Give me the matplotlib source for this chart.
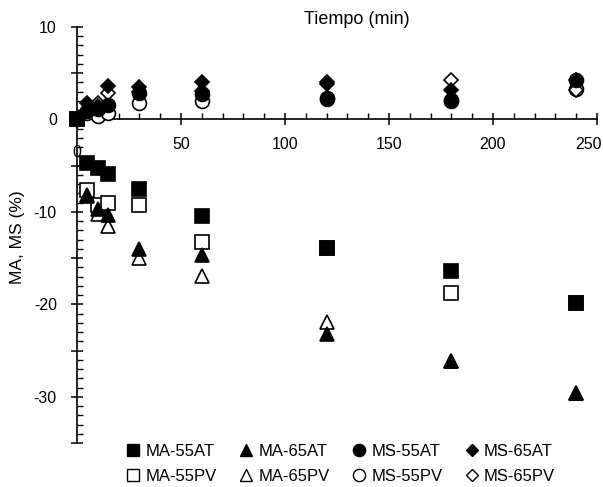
import matplotlib
matplotlib.use("Agg")
import matplotlib.pyplot as plt
import matplotlib.transforms as mtransforms
from matplotlib.lines import Line2D
from matplotlib.ticker import MultipleLocator

plt.rcParams['font.family'] = ['Liberation Sans', 'DejaVu Sans']

time = [0, 5, 10, 15, 30, 60, 120, 180, 240]

ma_55at = [0, -4.7, -5.2, -5.9, -7.5, -10.4, -13.9, -16.4, -19.9]
ma_55pv = [0, -7.6, -9.3, -9.0, -9.3, -13.3, -13.9, -18.8, -19.9]
ma_65at = [0, -8.3, -9.7, -10.3, -14.0, -14.7, -23.2, -26.1, -29.6]
ma_65pv = [0, -8.2, -10.2, -11.5, -15.0, -16.9, -21.9, -26.1, -29.6]
ms_55at = [0, 0.9, 1.1, 1.6, 2.9, 2.7, 2.2, 2.0, 4.3]
ms_55pv = [0, 0.7, 0.4, 0.75, 1.8, 2.0, 2.3, 2.1, 3.3]
ms_65at = [0, 1.8, 1.5, 3.6, 3.5, 4.1, 3.8, 3.2, 4.3]
ms_65pv = [0, 1.0, 1.8, 2.9, 3.0, 3.1, 4.0, 4.3, 3.2]

labels = ["MA-55AT", "MA-55PV", "MA-65AT", "MA-65PV",
          "MS-55AT", "MS-55PV", "MS-65AT", "MS-65PV"]
xtick_vals = [0, 50, 100, 150, 200, 250]
ytick_vals = [-30, -20, -10, 0, 10]

fig = plt.figure(figsize=(6.03, 4.87), dpi=100)
ax = fig.add_axes([77/603, 1-443/487, (597-77)/603, (443-27)/487])

lw = 1.2
styles = {
    "MA-55AT": dict(marker='s', ms=9.6, mfc='black'),
    "MA-55PV": dict(marker='s', ms=9.6, mfc='white'),
    "MA-65AT": dict(marker='^', ms=10.5, mfc='black'),
    "MA-65PV": dict(marker='^', ms=10.5, mfc='white'),
    "MS-55AT": dict(marker='o', ms=10, mfc='black'),
    "MS-55PV": dict(marker='o', ms=10, mfc='white'),
    "MS-65AT": dict(marker='D', ms=7.2, mfc='black'),
    "MS-65PV": dict(marker='D', ms=7.2, mfc='white'),
}
data = {
    "MA-55AT": ma_55at, "MA-55PV": ma_55pv,
    "MA-65AT": ma_65at, "MA-65PV": ma_65pv,
    "MS-55AT": ms_55at, "MS-55PV": ms_55pv,
    "MS-65AT": ms_65at, "MS-65PV": ms_65pv,
}
draw_order = ["MA-55PV", "MA-65PV", "MA-55AT", "MA-65AT",
              "MS-55PV", "MS-65PV", "MS-55AT", "MS-65AT"]
for i, name in enumerate(draw_order):
    st = styles[name]
    ax.plot(time, data[name], linestyle='none', marker=st['marker'],
            markersize=st['ms'], markerfacecolor=st['mfc'],
            markeredgecolor='black', markeredgewidth=lw, zorder=3 + i,
            clip_on=False)

ax.set_xlim(0, 250)
ax.set_ylim(-35, 10)
ax.spines['top'].set_visible(False)
ax.spines['right'].set_visible(False)
ax.spines['bottom'].set_position(('data', 0))
ax.spines['left'].set_linewidth(1.2)
ax.spines['bottom'].set_linewidth(1.2)

ax.xaxis.set_major_locator(MultipleLocator(50))
ax.xaxis.set_minor_locator(MultipleLocator(10))
ax.yaxis.set_major_locator(MultipleLocator(5))
ax.yaxis.set_minor_locator(MultipleLocator(1))
ax.tick_params(axis='both', which='major', direction='inout', length=9, width=1.1,
               labelsize=11.5, color='black')
ax.tick_params(axis='both', which='minor', direction='in', length=4.5, width=1.0)
ax.set_xticks(xtick_vals)
# x tick labels drawn as text (first sits lower, last nudged inside the figure)
ax.set_xticklabels([""] * len(xtick_vals))
ax.set_yticks([-35, -30, -25, -20, -15, -10, -5, 0, 5, 10])
ax.set_yticklabels(["", "-30", "", "-20", "", "-10", "", "0", "", "10"])
ax.tick_params(axis='y', which='major', pad=10)

for v in xtick_vals:
    if v == xtick_vals[0]:
        ax.text(v, -3.6, str(v), ha='center', va='center', fontsize=11.5)
    else:
        dx = -6 / 72 if v == xtick_vals[-1] else 0
        tr = ax.transData + mtransforms.ScaledTranslation(dx, -18 / 72, fig.dpi_scale_trans)
        ax.text(v, 0, str(v), ha='center', va='center', fontsize=11.5, transform=tr)

fig.text(357/603, 1-20/487, "Tiempo (min)", ha='center', va='center', fontsize=13)
fig.text(18/603, 1-237/487, "MA, MS (%)", ha='center', va='center',
         rotation=90, fontsize=12.5)

handles = []
for name in labels:
    st = styles[name]
    handles.append(Line2D([], [], linestyle='none', marker=st['marker'],
                          markersize=st['ms'] * 0.88, markerfacecolor=st['mfc'],
                          markeredgecolor='black', markeredgewidth=1.0))
fig.legend(handles, labels, ncol=4, loc='center', bbox_to_anchor=(0.565, 1-464/487),
           frameon=False, fontsize=12, handlelength=0.8, handletextpad=0.35,
           columnspacing=1.35, labelspacing=0.6)

fig.savefig("out.png", dpi=100)
